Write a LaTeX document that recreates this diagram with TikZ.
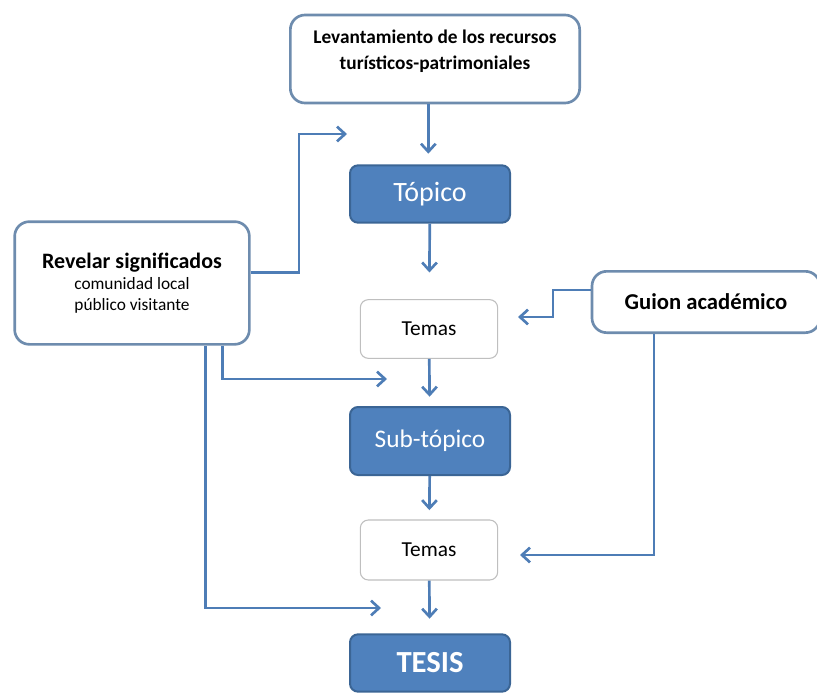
\documentclass[tikz,border=0pt]{standalone}
\usepackage{fontspec}
\setmainfont{Carlito}
\usepackage{tikz}
\usetikzlibrary{arrows.meta,positioning,calc}
\usepackage{xcolor}
\definecolor{flechaazul}{HTML}{4E7DB6}
\definecolor{rellenoazul}{HTML}{4F81BD}
\definecolor{bordeazul}{HTML}{3B6595}
\definecolor{bordegris}{HTML}{6E8CAE}

\begin{document}
\begin{tikzpicture}[
        x=0.75pt, y=-0.75pt,
        caja/.style={rectangle,draw=bordegris,line width=2pt,fill=white,rounded corners=11pt,align=center,inner sep=2pt},
        topico/.style={rectangle,draw=bordeazul,line width=1.5pt,fill=rellenoazul,text=white,rounded corners=6pt,minimum width=120pt,align=center},
        tema/.style={rectangle,draw=black!25,line width=0.8pt,fill=white,rounded corners=6pt,minimum width=103pt,minimum height=44pt,font=\fontsize{16}{19}\selectfont},
        arrow/.style={-{Straight Barb[length=6pt,width=11pt,line width=2pt]},line width=2pt,draw=flechaazul}
    ]
        \useasboundingbox (0,0) rectangle (817,696);

        \node[caja, minimum width=217pt, minimum height=66pt, font=\bfseries\fontsize{14.5}{19}\selectfont] (levantamiento) at (435,59)
            {Levantamiento de los recursos\\turísticos-patrimoniales\rule[-14pt]{0pt}{0pt}};
        \node[topico, minimum height=43pt, font=\fontsize{21}{25}\selectfont] (topico) at (430,194) {Tópico};
        \node[tema] (temas1) at (429,329) {Temas};
        \node[topico, minimum height=51pt, font=\fontsize{19}{23}\selectfont] (subtopico) at (430,441) {Sub-tópico};
        \node[tema, minimum height=45pt] (temas2) at (429,550) {Temas};
        \node[topico, minimum height=43pt, font=\bfseries\fontsize{23}{27}\selectfont] (tesis) at (430,663) {TESIS};

        \node[caja, minimum width=176pt, minimum height=92pt, font=\fontsize{13}{15.5}\selectfont] (revelar) at (132,283)
            {{\bfseries\fontsize{16.5}{20}\selectfont Revelar significados}\\comunidad local\\público visitante};
        \node[caja, minimum width=171pt, minimum height=46pt, font=\bfseries\fontsize{17}{20}\selectfont] (guion) at (706,302) {Guion académico};

        \coordinate (entradaA) at (347,134);
        \coordinate (entradaB) at (518,317);
        \coordinate (entradaC) at (387,379);
        \coordinate (entradaD) at (520,555);
        \coordinate (entradaE) at (381,608);

        \draw[arrow, shorten >=8pt] ([xshift=-5pt]levantamiento.south) -- ([xshift=-5pt]levantamiento.south |- topico.north);
        \draw[arrow, shorten >=20pt] (topico) -- (temas1);
        \draw[arrow, shorten >=7pt] (temas1) -- (subtopico);
        \draw[arrow, shorten >=7pt] (subtopico) -- (temas2);
        \draw[arrow, shorten >=11pt] (temas2) -- (tesis);

        \draw[arrow] ([yshift=8pt]revelar.east) -| (299,134) -- (entradaA);
        \draw[arrow] ([xshift=68pt]revelar.south) |- (entradaC);
        \draw[arrow] ([xshift=55pt]revelar.south) |- (entradaE);

        \draw[arrow] ([yshift=9pt]guion.west) -- (553,290) |- (entradaB);
        \draw[arrow] ([xshift=-39pt]guion.south) |- (entradaD);
    \end{tikzpicture}
\end{document}
